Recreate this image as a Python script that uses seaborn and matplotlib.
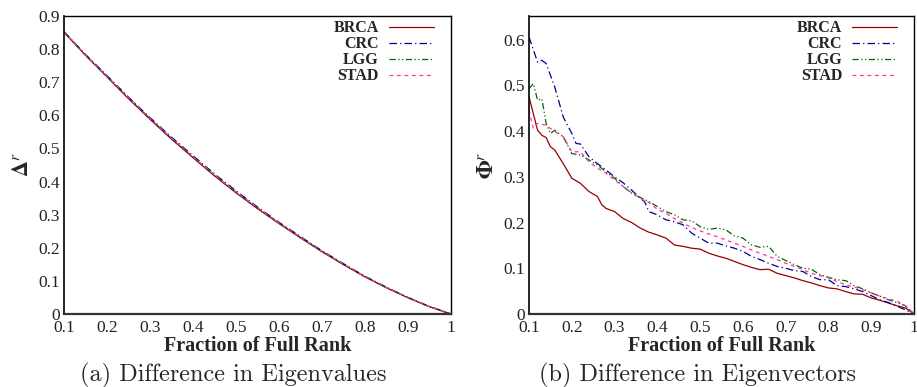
import numpy as np
import pandas as pd
import matplotlib
matplotlib.use("Agg")
import matplotlib.pyplot as plt
import seaborn as sns

# ---------------- data ----------------
series_names = ["BRCA", "CRC", "LGG", "STAD"]

# Panel (a): difference in eigenvalues
x_eig = [0.10, 0.15, 0.20, 0.25, 0.30, 0.35, 0.40, 0.45, 0.50, 0.55,
         0.60, 0.65, 0.70, 0.75, 0.80, 0.85, 0.90, 0.95, 1.00]
eig_brca = [0.851, 0.781, 0.716, 0.650, 0.588, 0.528, 0.472, 0.417, 0.366, 0.318,
            0.273, 0.230, 0.188, 0.149, 0.112, 0.079, 0.049, 0.022, 0.000]
eig_crc = [0.853, 0.784, 0.720, 0.655, 0.593, 0.534, 0.478, 0.423, 0.372, 0.323,
           0.277, 0.234, 0.191, 0.152, 0.114, 0.081, 0.050, 0.023, 0.000]
eig_lgg = [0.851, 0.782, 0.717, 0.652, 0.590, 0.530, 0.474, 0.419, 0.368, 0.320,
           0.275, 0.231, 0.189, 0.150, 0.113, 0.080, 0.050, 0.022, 0.000]
eig_stad = [0.852, 0.783, 0.718, 0.653, 0.591, 0.531, 0.475, 0.420, 0.369, 0.321,
            0.275, 0.232, 0.190, 0.151, 0.113, 0.080, 0.050, 0.022, 0.000]

# Panel (b): difference in eigenvectors
x_brca = [0.10, 0.12, 0.13, 0.14, 0.15, 0.16, 0.17, 0.18, 0.20, 0.22, 0.24, 0.26, 0.27, 0.28,
          0.30, 0.32, 0.34, 0.36, 0.38, 0.40, 0.42, 0.44, 0.46, 0.48, 0.50, 0.52, 0.54,
          0.56, 0.58, 0.60, 0.62, 0.64, 0.66, 0.68, 0.70, 0.72, 0.74, 0.76, 0.78, 0.80,
          0.82, 0.84, 0.86, 0.88, 0.90, 0.92, 0.94, 0.96, 0.98, 1.00]
vec_brca = [0.475, 0.402, 0.391, 0.386, 0.366, 0.359, 0.344, 0.329, 0.297, 0.286, 0.268, 0.257, 0.239, 0.231,
            0.224, 0.209, 0.200, 0.188, 0.179, 0.173, 0.166, 0.151, 0.148, 0.144, 0.142, 0.133, 0.127,
            0.122, 0.115, 0.108, 0.102, 0.097, 0.098, 0.089, 0.084, 0.079, 0.073, 0.068, 0.062, 0.057,
            0.055, 0.049, 0.044, 0.043, 0.035, 0.030, 0.024, 0.018, 0.013, 0.000]

x_crc = [0.10, 0.12, 0.13, 0.14, 0.16, 0.18, 0.20, 0.21, 0.22, 0.24, 0.26, 0.28, 0.30, 0.32,
         0.34, 0.36, 0.37, 0.38, 0.40, 0.42, 0.44, 0.46, 0.48, 0.50, 0.52, 0.54, 0.56, 0.58,
         0.60, 0.62, 0.64, 0.66, 0.68, 0.70, 0.72, 0.74, 0.76, 0.78, 0.80, 0.82, 0.84, 0.86,
         0.88, 0.90, 0.92, 0.94, 0.96, 0.98, 1.00]
vec_crc = [0.606, 0.551, 0.555, 0.548, 0.497, 0.431, 0.395, 0.373, 0.372, 0.344, 0.329, 0.315, 0.300, 0.287,
           0.271, 0.253, 0.246, 0.224, 0.217, 0.206, 0.202, 0.195, 0.177, 0.166, 0.155, 0.155, 0.149, 0.144,
           0.137, 0.126, 0.119, 0.111, 0.104, 0.100, 0.095, 0.093, 0.082, 0.075, 0.075, 0.062, 0.060, 0.055,
           0.049, 0.040, 0.031, 0.025, 0.017, 0.009, 0.000]

x_lgg = [0.10, 0.11, 0.12, 0.13, 0.14, 0.15, 0.16, 0.18, 0.20, 0.22, 0.24, 0.26, 0.28, 0.30,
         0.32, 0.34, 0.36, 0.38, 0.40, 0.42, 0.44, 0.46, 0.48, 0.50, 0.52, 0.54, 0.56, 0.58,
         0.60, 0.62, 0.64, 0.66, 0.68, 0.70, 0.72, 0.74, 0.76, 0.78, 0.80, 0.82, 0.84, 0.86,
         0.88, 0.90, 0.92, 0.94, 0.96, 0.98, 1.00]
vec_lgg = [0.493, 0.504, 0.468, 0.471, 0.417, 0.395, 0.402, 0.388, 0.351, 0.348, 0.337, 0.326, 0.311, 0.297,
           0.279, 0.264, 0.255, 0.246, 0.235, 0.224, 0.217, 0.206, 0.204, 0.191, 0.185, 0.188, 0.184, 0.171,
           0.166, 0.151, 0.146, 0.148, 0.126, 0.117, 0.108, 0.100, 0.098, 0.086, 0.080, 0.075, 0.073, 0.062,
           0.055, 0.046, 0.039, 0.031, 0.025, 0.018, 0.000]

x_stad = [0.10, 0.11, 0.12, 0.14, 0.16, 0.18, 0.20, 0.22, 0.24, 0.26, 0.28, 0.30, 0.32, 0.34,
          0.36, 0.38, 0.40, 0.42, 0.44, 0.46, 0.48, 0.50, 0.52, 0.54, 0.56, 0.58, 0.60, 0.62,
          0.64, 0.66, 0.68, 0.70, 0.72, 0.74, 0.76, 0.78, 0.80, 0.82, 0.84, 0.86, 0.88, 0.90,
          0.92, 0.94, 0.96, 0.98, 1.00]
vec_stad = [0.446, 0.406, 0.417, 0.413, 0.399, 0.388, 0.355, 0.355, 0.333, 0.319, 0.308, 0.293, 0.279, 0.265,
            0.253, 0.244, 0.229, 0.220, 0.209, 0.199, 0.189, 0.182, 0.175, 0.169, 0.162, 0.155, 0.148, 0.140,
            0.133, 0.126, 0.119, 0.111, 0.104, 0.097, 0.089, 0.084, 0.079, 0.071, 0.064, 0.059, 0.053, 0.046,
            0.039, 0.033, 0.028, 0.018, 0.000]

x_ticks = [0.1, 0.2, 0.3, 0.4, 0.5, 0.6, 0.7, 0.8, 0.9, 1.0]
x_tick_labels = ["0.1", "0.2", "0.3", "0.4", "0.5", "0.6", "0.7", "0.8", "0.9", "1"]
y_ticks_a = [0, 0.1, 0.2, 0.3, 0.4, 0.5, 0.6, 0.7, 0.8, 0.9]
y_ticks_b = [0, 0.1, 0.2, 0.3, 0.4, 0.5, 0.6]

# ---------------- styling ----------------
sns.set_style("white")
plt.rcParams["font.family"] = ["Liberation Serif", "DejaVu Serif"]
plt.rcParams["mathtext.fontset"] = "stix"

colors = {"BRCA": "#990000", "CRC": "#000099", "LGG": "#006600", "STAD": "#ff3399"}
dashes = {"BRCA": (None, None), "CRC": (6, 2.5, 1, 2.5), "LGG": (5, 2, 1, 2, 1, 2),
          "STAD": (3, 3)}

fig = plt.figure(figsize=(9.17, 3.87), dpi=100)
ax_a = fig.add_axes([0.0698, 0.1886, 0.4220, 0.7701])
ax_b = fig.add_axes([0.5769, 0.1886, 0.4200, 0.7701])


def draw(ax, data_x, data_y):
    for name in series_names:
        df = pd.DataFrame({"x": data_x[name], "y": data_y[name]})
        sns.lineplot(data=df, x="x", y="y", ax=ax, color=colors[name],
                     linewidth=0.9, label=name, legend=False)
        ln = ax.get_lines()[-1]
        if dashes[name][0] is not None:
            ln.set_dashes(dashes[name])


draw(ax_a,
     {"BRCA": x_eig, "CRC": x_eig, "LGG": x_eig, "STAD": x_eig},
     {"BRCA": eig_brca, "CRC": eig_crc, "LGG": eig_lgg, "STAD": eig_stad})
draw(ax_b,
     {"BRCA": x_brca, "CRC": x_crc, "LGG": x_lgg, "STAD": x_stad},
     {"BRCA": vec_brca, "CRC": vec_crc, "LGG": vec_lgg, "STAD": vec_stad})

for ax, yt, ylim, ylab, cap in [
        (ax_a, y_ticks_a, 0.9, r"$\mathbf{\Delta}^{r}$", "(a) Difference in Eigenvalues"),
        (ax_b, y_ticks_b, 0.652, r"$\mathbf{\Phi}^{r}$", "(b) Difference in Eigenvectors")]:
    ax.set_xlim(0.1, 1.0)
    ax.set_ylim(0, ylim)
    ax.set_xticks(x_ticks)
    ax.set_xticklabels(x_tick_labels)
    ax.set_yticks(yt)
    ax.set_yticklabels(["0"] + [f"{v:.1f}" for v in yt[1:]])
    ax.tick_params(direction="in", length=4, width=0.8, labelsize=12.5,
                   colors="#222222", pad=3)
    ax.tick_params(axis="x", pad=4)
    for s in ax.spines.values():
        s.set_color("black")
        s.set_linewidth(1.0)
    ax.spines["bottom"].set_color("#333333")
    ax.spines["bottom"].set_linewidth(1.6)
    ax.spines["left"].set_linewidth(1.2)
    ax.set_xlabel("Fraction of Full Rank", fontsize=14.5, fontweight="bold", labelpad=0)
    ax.set_ylabel(ylab, fontsize=16, labelpad=4)
    leg = ax.legend(loc="upper right", bbox_to_anchor=(0.956, 0.985), frameon=False,
                    markerfirst=False, fontsize=11.5, handlelength=2.8, handletextpad=0.65,
                    labelspacing=0.0, borderpad=0, borderaxespad=0)
    for t in leg.get_texts():
        t.set_fontweight("bold")
    pos = ax.get_position()
    fig.text(pos.x0 + pos.width / 2 - 0.026, 0.029, cap, ha="center", va="center",
             fontsize=17.5, family=["cmr10", "DejaVu Serif"])

fig.savefig("out.png", dpi=100)
